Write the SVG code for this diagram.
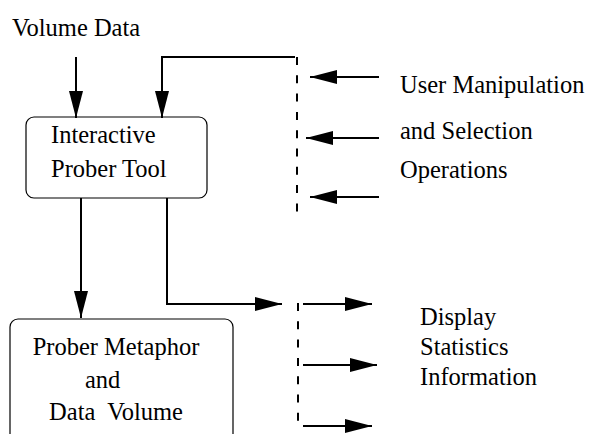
<svg xmlns="http://www.w3.org/2000/svg" width="591" height="434" viewBox="0 0 591 434">
  <style>
    .lbl { font-family: "Liberation Serif", "Times New Roman", serif; font-size: 24.5px; fill: #000; }
    .box { fill: #fff; stroke: #000; stroke-width: 1.2; }
    .wire { fill: none; stroke: #000; stroke-width: 2; }
    .dash { fill: none; stroke: #000; stroke-width: 2; stroke-dasharray: 8 10.3; }
  </style>
  <defs>
    <marker id="head" markerUnits="userSpaceOnUse" markerWidth="28" markerHeight="14" refX="27" refY="7" orient="auto">
      <path d="M0,0 L27,7 L0,14 z" fill="#000"/>
    </marker>
  </defs>

  <rect width="591" height="434" fill="#fff"/>

  <!-- free-standing labels -->
  <text class="lbl" x="12" y="36">Volume Data</text>
  <g id="input-labels">
    <text class="lbl" x="400" y="93">User Manipulation</text>
    <text class="lbl" x="400" y="139">and Selection</text>
    <text class="lbl" x="400" y="178">Operations</text>
  </g>
  <g id="output-labels">
    <text class="lbl" x="420" y="325">Display</text>
    <text class="lbl" x="420" y="355">Statistics</text>
    <text class="lbl" x="420" y="385">Information</text>
  </g>

  <!-- nodes -->
  <g id="prober-tool">
    <rect class="box" x="26" y="117" width="181" height="81" rx="8"/>
    <text class="lbl" x="51" y="143">Interactive</text>
    <text class="lbl" x="51" y="177">Prober Tool</text>
  </g>
  <g id="prober-metaphor">
    <rect class="box" x="10" y="319" width="223" height="140" rx="8"/>
    <text class="lbl" x="116" y="355" text-anchor="middle">Prober Metaphor</text>
    <text class="lbl" x="85" y="388">and</text>
    <text class="lbl" x="116" y="420" text-anchor="middle" xml:space="preserve">Data  Volume</text>
  </g>

  <!-- connectors -->
  <g id="connectors">
    <!-- dashed buses -->
    <line class="dash" x1="297" y1="57" x2="297" y2="212"/>
    <line class="dash" x1="298" y1="303" x2="298" y2="424"/>

    <!-- into the prober tool -->
    <line class="wire" x1="76" y1="57" x2="76" y2="118" marker-end="url(#head)"/>
    <polyline class="wire" points="295,57 162,57 162,118" marker-end="url(#head)"/>

    <!-- user operations onto the bus -->
    <line class="wire" x1="379" y1="77" x2="310" y2="77" marker-end="url(#head)"/>
    <line class="wire" x1="379" y1="138" x2="306" y2="138" marker-end="url(#head)"/>
    <line class="wire" x1="379" y1="197" x2="310" y2="197" marker-end="url(#head)"/>

    <!-- out of the prober tool -->
    <line class="wire" x1="81" y1="198" x2="81" y2="318" marker-end="url(#head)"/>
    <polyline class="wire" points="167,198 167,304 282,304" marker-end="url(#head)"/>

    <!-- bus to display outputs -->
    <line class="wire" x1="303" y1="304" x2="372" y2="304" marker-end="url(#head)"/>
    <line class="wire" x1="303" y1="365" x2="377" y2="365" marker-end="url(#head)"/>
    <line class="wire" x1="303" y1="426" x2="372" y2="426" marker-end="url(#head)"/>
  </g>
</svg>
